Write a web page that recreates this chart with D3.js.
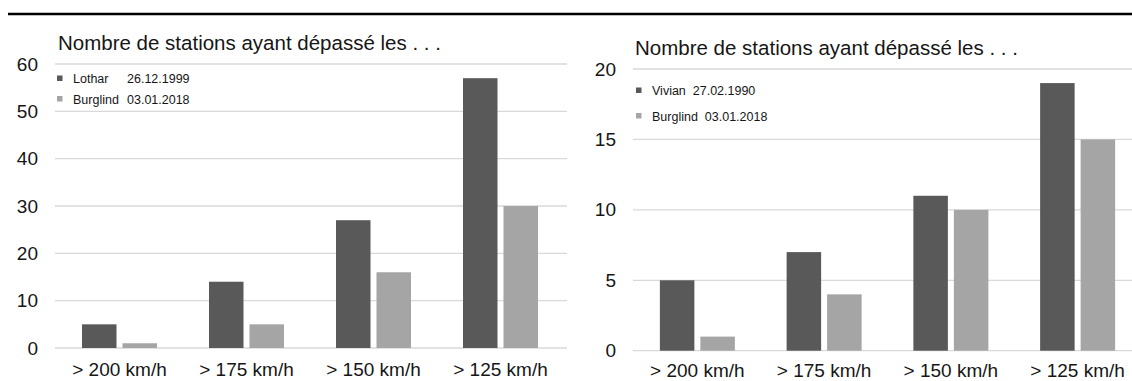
<!DOCTYPE html>
<html>
<head>
<meta charset="utf-8">
<script src="https://cdn.jsdelivr.net/npm/d3@7"></script>
<style>
  html, body { margin: 0; padding: 0; background: #fff; }
  svg { display: block; font-family: "Liberation Sans", Arial, sans-serif; }
</style>
</head>
<body>
<svg id="chart" width="1132" height="381"></svg>
<script>
// Wind-speed thresholds shown on the x axis of both panels
const categories = ["> 200 km/h", "> 175 km/h", "> 150 km/h", "> 125 km/h"];

// Number of stations exceeding each threshold
const lotharValues   = [5, 14, 27, 57];
const burglindValuesA = [1, 5, 16, 30];
const vivianValues   = [5, 7, 11, 19];
const burglindValuesB = [1, 4, 10, 15];

// Series names and dates
const lotharName = "Lothar",   lotharDate = "26.12.1999";
const vivianName = "Vivian",   vivianDate = "27.02.1990";
const burglindName = "Burglind", burglindDate = "03.01.2018";

// Tick values of each y axis
const ticksLeft  = [0, 10, 20, 30, 40, 50, 60];
const ticksRight = [0, 5, 10, 15, 20];

const titleText = "Nombre de stations ayant dépassé les . . .";

const DARK = "#595959", LIGHT = "#a5a5a5", GRID = "#d9d9d9", INK = "#161616";

const svg = d3.select("#chart");

// Horizontal rule across the top of the figure
svg.append("line")
  .attr("x1", 8).attr("x2", 1132)
  .attr("y1", 14).attr("y2", 14)
  .attr("stroke", "#000").attr("stroke-width", 2.6);

function panel(cfg) {
  const g = svg.append("g");

  const y = d3.scaleLinear().domain([0, cfg.max]).range([cfg.y0, cfg.yTop]);
  const x0 = d3.scaleBand().domain(categories).range(cfg.xRange).padding(0);
  const x1 = d3.scaleBand().domain([0, 1])
    .range([(x0.bandwidth() - 75) / 2, (x0.bandwidth() + 75) / 2])
    .paddingInner(0.148).paddingOuter(0);

  // Gridlines
  g.append("g").selectAll("line").data(cfg.ticks).join("line")
    .attr("x1", cfg.gridX[0]).attr("x2", cfg.gridX[1])
    .attr("y1", d => y(d)).attr("y2", d => y(d))
    .attr("stroke", GRID).attr("stroke-width", 1.3);

  // Y axis labels
  const yAxis = d3.axisLeft(y).tickValues(cfg.ticks).tickSize(0).tickPadding(0);
  const ya = g.append("g").attr("transform", `translate(${cfg.labelRight},0)`).call(yAxis);
  ya.select(".domain").remove();
  ya.selectAll("text")
    .attr("font-family", "Liberation Sans, Arial, sans-serif")
    .attr("font-size", 19).attr("fill", INK);

  // X axis labels
  const xAxis = d3.axisBottom(x0).tickSize(0).tickPadding(0);
  const xa = g.append("g").attr("transform", `translate(0,${cfg.xLabelY})`).call(xAxis);
  xa.select(".domain").remove();
  xa.selectAll("text")
    .attr("font-family", "Liberation Sans, Arial, sans-serif")
    .attr("font-size", 19).attr("fill", INK).attr("dy", 0);

  // Bars
  const series = [cfg.values[0], cfg.values[1]];
  const colors = [DARK, LIGHT];
  const groups = g.append("g").selectAll("g").data(categories).join("g")
    .attr("transform", d => `translate(${x0(d)},0)`);
  groups.selectAll("rect")
    .data((c, i) => series.map((s, k) => ({ k, v: s[i] })))
    .join("rect")
    .attr("x", d => x1(d.k))
    .attr("width", x1.bandwidth())
    .attr("y", d => y(d.v))
    .attr("height", d => y(0) - y(d.v))
    .attr("fill", d => colors[d.k]);

  // Title
  g.append("text")
    .attr("x", cfg.titleX).attr("y", cfg.titleY)
    .attr("font-size", 20.5).attr("fill", INK)
    .text(titleText);

  // Legend
  cfg.legend.forEach((item, i) => {
    const ly = cfg.legendY[i];
    g.append("rect")
      .attr("x", cfg.legendX).attr("y", ly - 7.5)
      .attr("width", 5.5).attr("height", 5.5)
      .attr("fill", colors[i]);
    const t = g.append("text")
      .attr("x", cfg.legendX + 16).attr("y", ly)
      .attr("font-size", 12.5).attr("fill", INK);
    if (cfg.dateColumn) {
      t.append("tspan").text(item.name);
      t.append("tspan").attr("x", cfg.dateColumn).text(item.date);
    } else {
      t.text(item.name + "\u00a0\u00a0" + item.date);
    }
  });
}

panel({
  values: [lotharValues, burglindValuesA],
  max: 60, ticks: ticksLeft,
  y0: 348, yTop: 64,
  xRange: [56, 564], gridX: [55, 567],
  labelRight: 38, xLabelY: 375.5,
  titleX: 58, titleY: 50,
  legendX: 57, legendY: [83, 103.5], dateColumn: 127,
  legend: [{ name: lotharName, date: lotharDate }, { name: burglindName, date: burglindDate }]
});

panel({
  values: [vivianValues, burglindValuesB],
  max: 20, ticks: ticksRight,
  y0: 350.7, yTop: 69,
  xRange: [634, 1141], gridX: [633, 1132],
  labelRight: 616, xLabelY: 376.5,
  titleX: 635, titleY: 55,
  legendX: 636, legendY: [95, 120.5], dateColumn: null,
  legend: [{ name: vivianName, date: vivianDate }, { name: burglindName, date: burglindDate }]
});
</script>
</body>
</html>
